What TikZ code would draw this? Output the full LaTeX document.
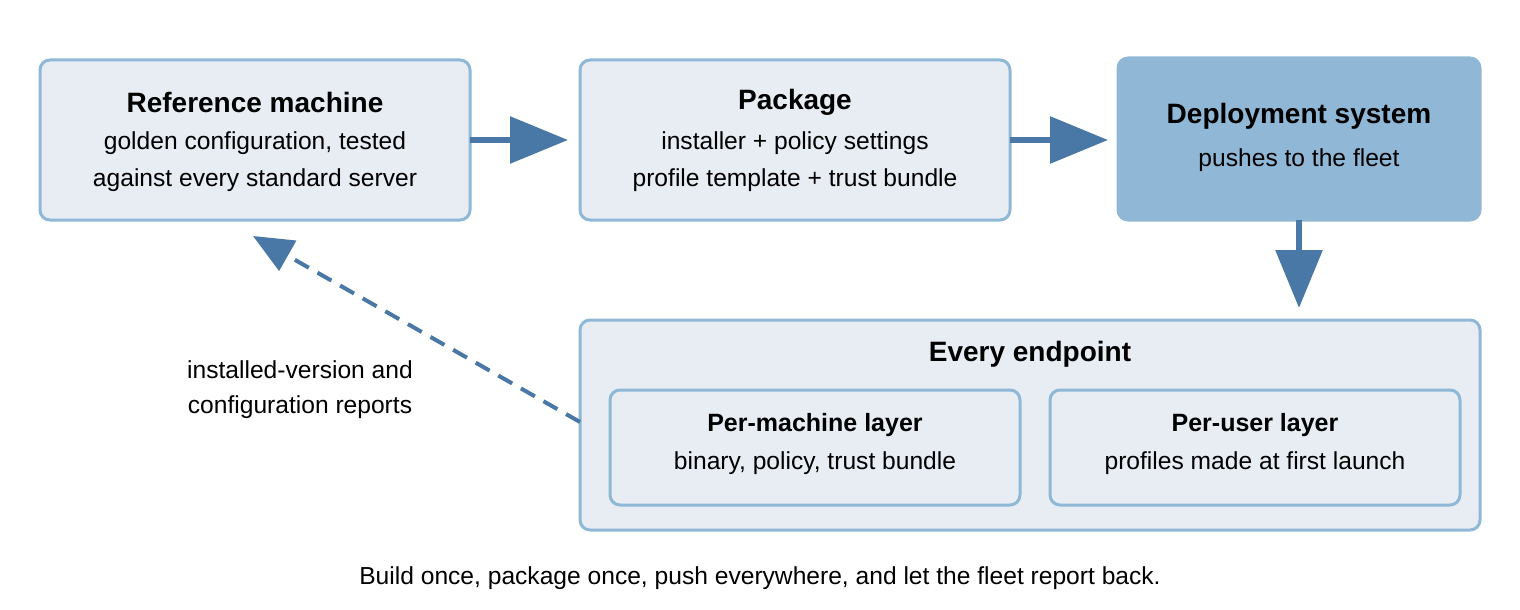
\documentclass[tikz,border=0pt]{standalone}
\usepackage{fontspec}
\setmainfont{Liberation Sans}
\usetikzlibrary{arrows.meta}
\definecolor{boxfill}{HTML}{E8EDF4}
\definecolor{boxline}{HTML}{8FB8D6}
\definecolor{darkfill}{HTML}{90B8D6}
\definecolor{arr}{HTML}{4A78A6}
\tikzset{
  box/.style={draw=boxline, line width=1.5pt, fill=boxfill, rounded corners=5pt},
  dbox/.style={draw=darkfill, line width=1.5pt, fill=darkfill, rounded corners=5pt},
  ttl/.style={font=\fontsize{14}{16}\selectfont\bfseries},
  stl/.style={font=\fontsize{12.5}{15}\selectfont\bfseries},
  txt/.style={font=\fontsize{12.3}{17.5}\selectfont},
  bigarrow/.style={draw=arr, line width=3pt, -{Triangle[length=29pt,width=23pt,fill=arr]}},
  dasharrow/.style={draw=arr, line width=2pt, dashed, dash pattern=on 8pt off 5pt, -{Triangle[length=20pt,width=17pt,fill=arr]}}
}
\begin{document}
\begin{tikzpicture}[x=0.5pt,y=-0.5pt]
\useasboundingbox (0,0) rectangle (1520,610);
\draw[box] (40,60) rectangle (470,220);
\draw[box] (580,60) rectangle (1010,220);
\draw[dbox] (1118,58) rectangle (1480,220);
\draw[box] (580,320) rectangle (1480,530);
\draw[box] (610,390) rectangle (1020,505);
\draw[box] (1050,390) rectangle (1460,505);
\node[ttl] (rt) at (255,102) {Reference machine};
\node[txt] (r1) at (255,143) {golden configuration, tested};
\node[txt] (r2) at (255,180) {against every standard server};
\node[ttl] (pt) at (795,102) {Package};
\node[txt] (p1) at (795,143) {installer + policy settings};
\node[txt] (p2) at (795,180) {profile template + trust bundle};
\node[ttl] (dt) at (1299,116) {Deployment system};
\node[txt] (d1) at (1299,160) {pushes to the fleet};
\node[ttl] (et) at (1030,354) {Every endpoint};
\node[stl] (mt) at (815,425) {Per-machine layer};
\node[txt] (m1) at (815,463) {binary, policy, trust bundle};
\node[stl] (ut) at (1255,425) {Per-user layer};
\node[txt] (u1) at (1255,463) {profiles made at first launch};
\node[txt,align=center] (lbl) at (300,390) {installed-version and\\configuration reports};
\node[txt] (cap) at (760,578) {Build once, package once, push everywhere, and let the fleet report back.};
\coordinate (a1s) at (470,140); \coordinate (a1e) at (568,140);
\coordinate (a2s) at (1010,140); \coordinate (a2e) at (1108,140);
\coordinate (a3s) at (1299,220); \coordinate (a3e) at (1299,308);
\coordinate (a4s) at (580,422); \coordinate (a4e) at (253,236);
\draw[bigarrow] (a1s) -- (a1e);
\draw[bigarrow] (a2s) -- (a2e);
\draw[bigarrow] (a3s) -- (a3e);
\draw[dasharrow] (a4s) -- (a4e);
\end{tikzpicture}
\end{document}
